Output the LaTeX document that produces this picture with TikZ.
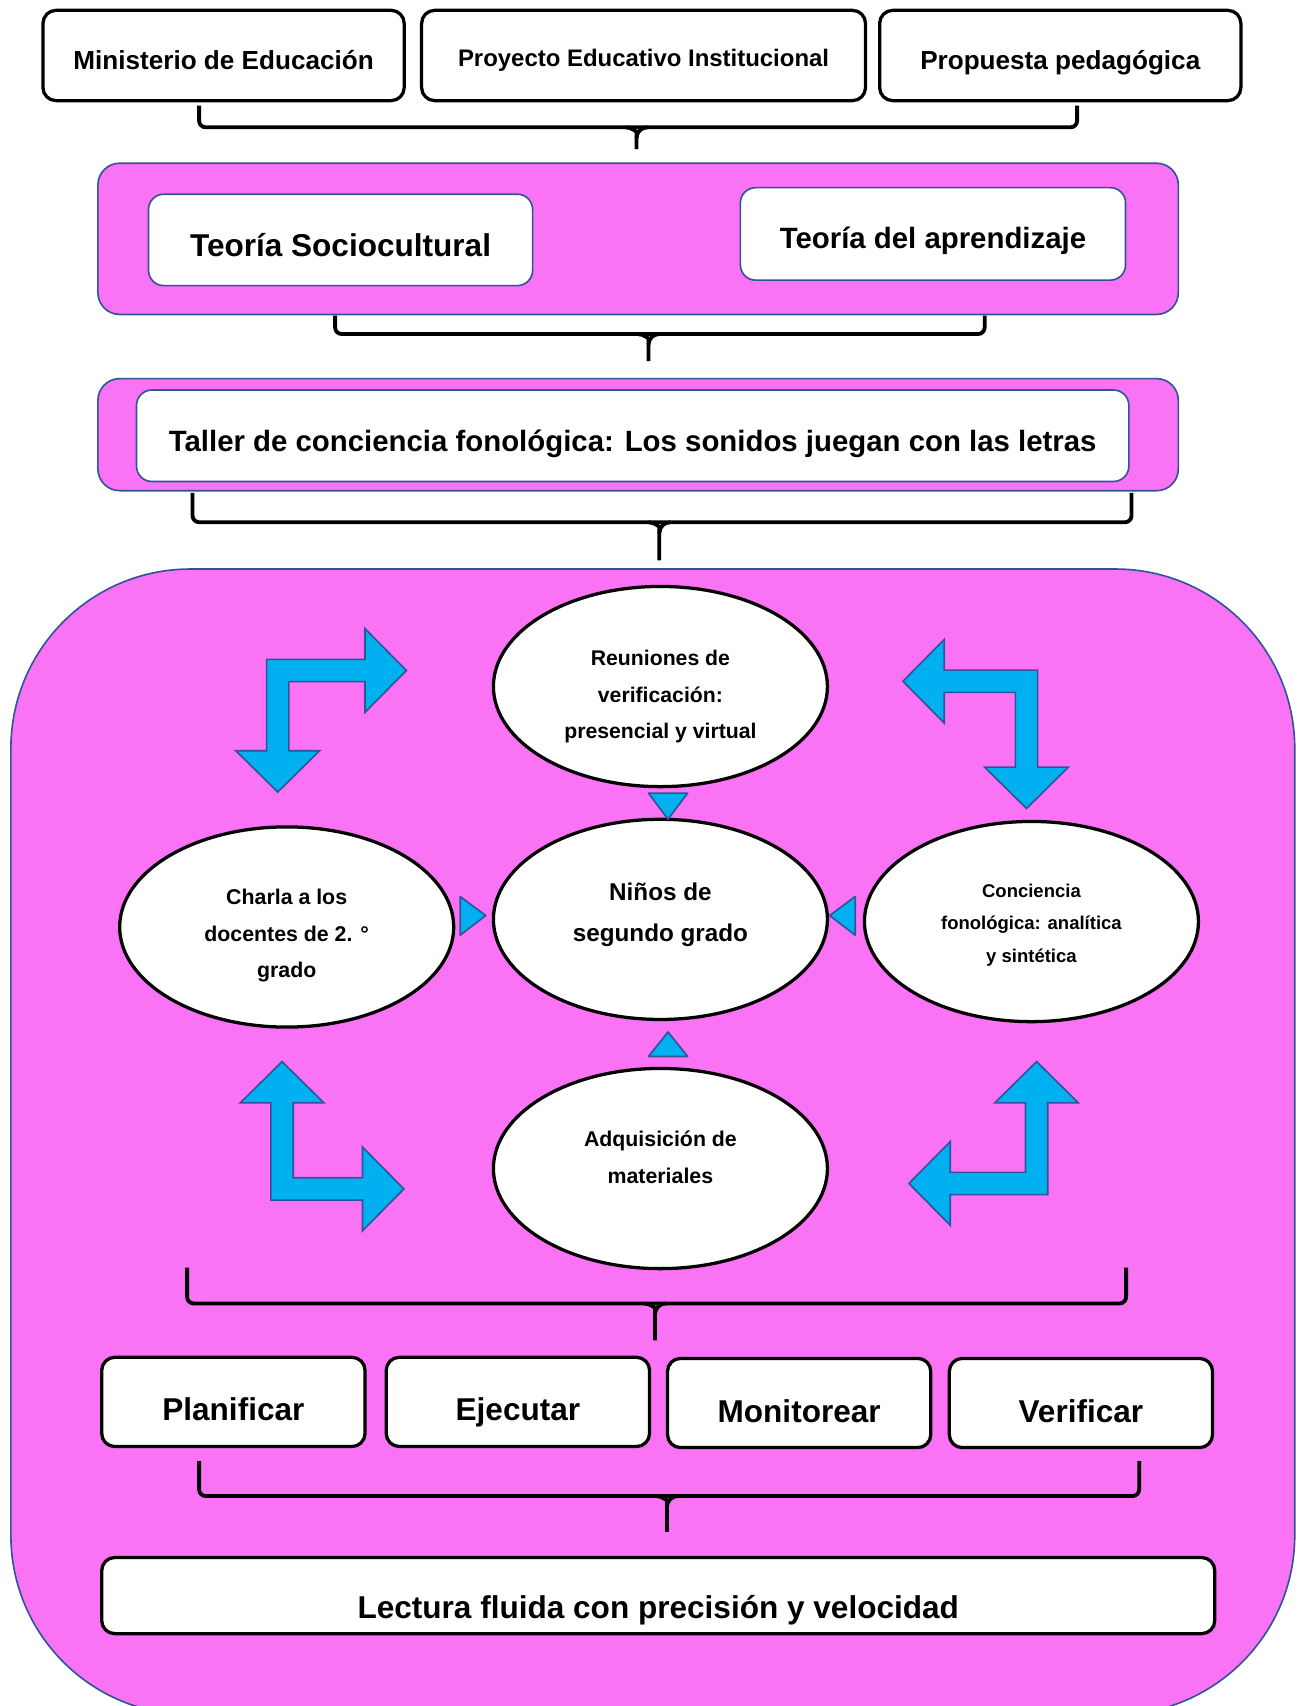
\documentclass[tikz,border=0pt]{standalone}
\usepackage{fontspec}
\setmainfont{Liberation Sans}
\usetikzlibrary{shapes.geometric}
\definecolor{rosa}{RGB}{250,115,245}
\definecolor{celeste}{RGB}{0,176,240}
\definecolor{azul}{RGB}{47,85,151}
\newcommand{\tam}[2]{\fontsize{#1}{#2}\selectfont\bfseries}
\begin{document}
\begin{tikzpicture}[x=1pt, y=-1pt,
  caja/.style={draw=black, line width=3pt, rounded corners=12pt, fill=white, inner sep=0pt, text depth=0pt},
  cajaazul/.style={draw=azul, line width=1.5pt, rounded corners=14pt, fill=white, inner sep=0pt, text depth=0pt},
  fondo/.style={draw=azul, line width=1.5pt, fill=rosa},
  elipse/.style={ellipse, draw=black, line width=3pt, fill=white, align=center, inner sep=0pt, minimum width=307pt, minimum height=184pt},
  llave/.style={draw=black, line width=3.5pt, rounded corners=6pt},
  flecha/.style={draw=azul, line width=1.5pt, fill=celeste},
  punta/.style={draw=azul, line width=1.5pt, fill=celeste, line join=round}]
  \useasboundingbox (0,0) rectangle (1195,1568);
  \clip (0,0) rectangle (1195,1568);

  % fondos
  \draw[fondo, rounded corners=20pt] (90,150) rectangle (1083,289);
  \draw[fondo, rounded corners=20pt] (90,348) rectangle (1083,451);
  \draw[fondo, rounded corners=165pt] (10,523) rectangle (1190,1576);

  % llaves
  \foreach \xa/\xb/\xm/\ya/\yb/\yc in {183/990/585/97/117/137, 308/905/596/290/307/332,
      177/1040/606/453/480/515, 172/1035/602/1165/1198/1232, 183/1047/613/1343/1375/1408} {
    \draw[llave] (\xa,\ya) -- (\xa,\yb) -- (\xb,\yb) -- (\xb,\ya);
    \draw[llave] (\xm-10,\yb) to[out=0,in=90] (\xm,\yb+10) -- (\xm,\yc);
    \draw[llave] (\xm+10,\yb) to[out=180,in=90] (\xm,\yb+10);
  }

  \node[caja, minimum width=332pt, minimum height=83pt, font=\tam{24}{28}, text height=26pt] (min) at (205.5,51) {Ministerio de Educación};
  \node[caja, minimum width=408pt, minimum height=83pt, font=\tam{22}{26}, text height=21pt] (pei) at (591.5,51) {Proyecto Educativo Institucional};
  \node[caja, minimum width=332pt, minimum height=83pt, font=\tam{24}{28}, text height=26pt] (prop) at (974.5,51) {Propuesta pedagógica};

  \node[cajaazul, minimum width=353pt, minimum height=84pt, font=\tam{29}{34}, text height=30pt] (socio) at (313,220.5) {Teoría Sociocultural};
  \node[cajaazul, minimum width=354pt, minimum height=85pt, font=\tam{27}{32}, text height=26pt] (aprend) at (857.5,215) {Teoría del aprendizaje};
  \node[cajaazul, minimum width=912pt, minimum height=84pt, font=\tam{27}{32}, text height=29pt] (taller) at (581.5,400.5) {Taller de conciencia fonológica: Los sonidos juegan con las letras};

  % flechas dobladas
  \foreach \cx/\cy/\sx/\sy/\ha/\va in {245/606/1/1/90.5/84, 953.7/615.9/-1/1/85.8/89.2,
      249/1103/1/-1/84.2/89.3, 963/1098/-1/-1/89.6/84.3} {
    \begin{scope}[shift={(\cx,\cy)}, xscale=\sx, yscale=\sy]
      \draw[flecha] (0,0) -- (\ha,0) -- (\ha,-28.25) -- (\ha+38,10.25) -- (\ha,48.75) -- (\ha,20.5)
        -- (20.5,20.5) -- (20.5,\va) -- (48.75,\va) -- (10.25,\va+38) -- (-28.25,\va) -- (0,\va) -- cycle;
    \end{scope}
  }

  \node[elipse, font=\tam{19.5}{33.5}] (reun) at (607,631) {\rule{0pt}{33pt}Reuniones de\\verificación:\\presencial y virtual};
  \node[elipse, font=\tam{22.3}{37}] (ninos) at (607,845) {Niños de\\segundo grado\rule[-13pt]{0pt}{0pt}};
  \node[elipse, font=\tam{19.6}{33.5}] (charla) at (263.5,852) {\rule{0pt}{30pt}Charla a los\\docentes de 2. °\\grado};
  \node[elipse, font=\tam{17}{29.5}] (conc) at (948,847) {\rule{0pt}{19pt}Conciencia\\fonológica: analítica\\y sintética};
  \node[elipse, font=\tam{19.6}{34}] (adq) at (607,1074) {Adquisición de\\materiales\rule[-20pt]{0pt}{0pt}};

  \draw[punta] (596,729) -- (632,729) -- (614,753) -- cycle;
  \draw[punta] (423,824) -- (446.5,841.5) -- (423,859.5) -- cycle;
  \draw[punta] (786,824) -- (762.5,841.5) -- (786,859.5) -- cycle;
  \draw[punta] (596,971) -- (632,971) -- (614,948.5) -- cycle;

  \foreach \n/\x/\y/\t in {plan/214.5/1288.5/Planificar, ejec/476/1288.5/Ejecutar, moni/734.5/1289.5/Monitorear, veri/993.5/1289.5/Verificar}
    \node[caja, minimum width=242pt, minimum height=82pt, font=\tam{29}{34}, text height=35pt] (\n) at (\x,\y) {\t};

  \node[caja, minimum width=1023pt, minimum height=70pt, font=\tam{29}{34}, text height=43pt] (lect) at (605,1466.5) {Lectura fluida con precisión y velocidad};
\end{tikzpicture}
\end{document}
